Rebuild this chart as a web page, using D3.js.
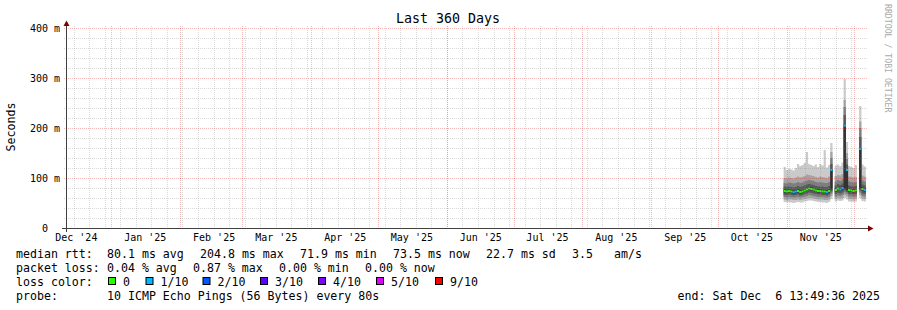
<!DOCTYPE html>
<html>
<head>
<meta charset="utf-8">
<script src="https://cdn.jsdelivr.net/npm/d3@7"></script>
<style>
body { margin: 0; background: #fff; }
svg text { font-family: "DejaVu Sans Mono", monospace; white-space: pre; }
</style>
</head>
<body>
<svg width="897" height="310"></svg>
<script>
// time window of the graph
const endTime = new Date(Date.UTC(2025, 11, 6, 13, 49, 36))
const spanDays = 360
const firstDay = new Date(Date.UTC(2025, 9, 30, 12, 0, 0))

// one entry per day starting at firstDay, null = no data
const median = [74, 73, 74, 73, 72, 73, 74, 72, 73, 75, 77, 79, 78, 77, 75, 74, 74, 73, 73, 72,
    74, 116, null, 76, 79, 77, 80, 204.8, 116, 76, 75, 74, 75, null, 158, 78, 76]
const loss = [0, 0, 0, 0, 0.1, 0.1, 0, 0, 0, 0, 0, 0, 0, 0, 0, 0, 0, 0, 0, 0.1,
    0, 0.1, null, 0, 0, 0.1, 0.1, 0.1, 0.1, 0, 0, 0, 0, null, 0.1, 0, 0.1]
// the 10 sorted pings of each day (ms)
const pings = [
    [52, 57, 62, 66, 71, 77, 83, 90, 100, 122],
    [51, 56, 61, 66, 70, 76, 82, 89, 99, 116],
    [52, 57, 62, 67, 71, 77, 83, 91, 101, 118],
    [51, 57, 61, 66, 70, 76, 82, 90, 100, 117],
    [50, 56, 61, 65, 69, 75, 81, 89, 99, 115],
    [51, 56, 61, 66, 70, 76, 82, 90, 101, 120],
    [52, 57, 62, 67, 71, 77, 84, 92, 103, 128],
    [51, 56, 61, 65, 69, 75, 82, 90, 101, 124],
    [51, 57, 62, 66, 70, 76, 83, 91, 102, 126],
    [53, 58, 63, 68, 72, 78, 85, 93, 104, 130],
    [54, 59, 64, 69, 74, 80, 87, 95, 107, 152],
    [55, 60, 66, 71, 76, 82, 88, 96, 106, 128],
    [55, 60, 65, 70, 75, 81, 87, 95, 105, 126],
    [54, 59, 64, 69, 74, 80, 86, 94, 104, 124],
    [53, 58, 63, 68, 72, 78, 84, 92, 102, 127],
    [52, 57, 62, 67, 71, 77, 83, 91, 101, 122],
    [52, 57, 62, 67, 71, 77, 83, 92, 103, 128],
    [51, 57, 62, 66, 70, 76, 83, 91, 102, 125],
    [51, 56, 61, 66, 70, 76, 82, 90, 101, 156],
    [50, 56, 61, 65, 69, 75, 82, 90, 100, 121],
    [52, 57, 62, 67, 71, 77, 84, 92, 103, 126],
    [58, 64, 69, 73, 77, 118, 128, 140, 152, 170],
    null,
    [53, 58, 63, 68, 73, 79, 85, 93, 104, 125],
    [55, 60, 65, 70, 76, 82, 88, 96, 106, 127],
    [54, 59, 64, 69, 74, 80, 86, 94, 105, 124],
    [55, 60, 66, 71, 77, 83, 89, 97, 108, 131],
    [60, 66, 71, 75, 79, 207, 226, 242, 256, 298],
    [57, 63, 68, 72, 76, 118, 127, 138, 150, 172],
    [53, 58, 63, 68, 73, 79, 85, 93, 103, 124],
    [53, 58, 63, 68, 72, 78, 84, 92, 102, 122],
    [52, 57, 62, 67, 71, 77, 83, 91, 101, 120],
    [53, 58, 63, 68, 72, 78, 84, 92, 102, 126],
    null,
    [60, 66, 71, 75, 79, 160, 182, 200, 213, 244],
    [54, 59, 64, 69, 75, 81, 87, 95, 105, 127],
    [53, 58, 63, 68, 73, 79, 85, 93, 103, 123]
]

const yTicks = [0, 100, 200, 300, 400]
const lossLabels = ['0', '1/10', '2/10', '3/10', '4/10', '5/10', '9/10']
const lossColors = ['#26ff00', '#00b8ff', '#0059ff', '#5e00ff', '#7e00ff', '#dd00ff', '#ff0000']
const lossLimits = [0, 1, 2, 3, 4, 5, 10]

const title = 'Last 360 Days'
const rttStats = ['median rtt:', '80.1 ms avg', '204.8 ms max', '71.9 ms min', '73.5 ms now', '22.7 ms sd', '3.5', 'am/s']
const lossStats = ['packet loss:', '0.04 % avg', '0.87 % max', '0.00 % min', '0.00 % now']
const probeText = ['probe:', '10 ICMP Echo Pings (56 Bytes) every 80s']
const endText = 'end: Sat Dec  6 13:49:36 2025'

const svg = d3.select('svg')
const startTime = d3.utcDay.offset(endTime, -spanDays)

const x = d3.scaleUtc().domain([startTime, endTime]).range([66, 866])
const y = d3.scaleLinear().domain([0, 400]).range([228, 28])

const days = median.map((m, i) => ({
    t0: d3.utcDay.offset(firstDay, i),
    t1: d3.utcDay.offset(firstDay, i + 1),
    median: m,
    loss: loss[i],
    pings: pings[i]
}))

// smoke: band between ping k and ping 11-k, darker towards the middle
const smoke = svg.append('g')
for (let k = 0; k < 5; k++) {
    let c = Math.floor(190 / 5 * (4 - k)) + 50
    let pts = days.flatMap(d => [
        {t: d.t0, p: d.pings},
        {t: d.t1, p: d.pings}
    ])
    let area = d3.area()
        .defined(d => d.p != null)
        .x(d => x(d.t))
        .y0(d => y(d.p[k]))
        .y1(d => y(d.p[9 - k]))
    smoke.append('path')
        .attr('d', area(pts))
        .attr('fill', d3.rgb(c, c, c))
}

// median coloured by loss
function lossColor(l) {
    for (let i = 0; i < lossLimits.length; i++) {
        if (l <= lossLimits[i]) return lossColors[i]
    }
    return lossColors[lossColors.length - 1]
}

svg.append('g')
    .selectAll('rect')
    .data(days.filter(d => d.median != null))
    .enter().append('rect')
    .attr('x', d => x(d.t0))
    .attr('width', d => x(d.t1) - x(d.t0))
    .attr('y', d => y(d.median) - 1)
    .attr('height', 2)
    .attr('fill', d => lossColor(d.loss))

// grid on top, like rrdtool
const grid = svg.append('g').attr('stroke-dasharray', '1,1')
const minorY = d3.range(0, 401, 20).filter(v => v % 100 != 0)
const gridGray = 'rgba(140,140,140,0.32)'
const gridRed = 'rgba(225,40,40,0.32)'

grid.selectAll('.hminor')
    .data(minorY)
    .enter().append('line')
    .attr('x1', 64).attr('x2', 868)
    .attr('y1', d => y(d) + 0.5).attr('y2', d => y(d) + 0.5)
    .attr('stroke', gridGray)

grid.selectAll('.vminor')
    .data(d3.utcSunday.range(startTime, endTime))
    .enter().append('line')
    .attr('x1', d => Math.round(x(d)) + 0.5).attr('x2', d => Math.round(x(d)) + 0.5)
    .attr('y1', 26).attr('y2', 230)
    .attr('stroke', gridGray)

grid.selectAll('.hmajor')
    .data(yTicks.slice(1))
    .enter().append('line')
    .attr('x1', 64).attr('x2', 868)
    .attr('y1', d => y(d) + 0.5).attr('y2', d => y(d) + 0.5)
    .attr('stroke', gridRed)

grid.selectAll('.vmajor')
    .data(d3.utcMonth.range(startTime, endTime))
    .enter().append('line')
    .attr('x1', d => Math.round(x(d)) + 0.5).attr('x2', d => Math.round(x(d)) + 0.5)
    .attr('y1', 26).attr('y2', 230)
    .attr('stroke', gridRed)

// axes
const midMonths = d3.utcMonth.range(d3.utcMonth.floor(startTime), endTime)
    .map(m => d3.utcDay.offset(m, 15))
    .filter(d => d >= startTime && d <= endTime)

const xAxis = svg.append('g')
    .attr('transform', 'translate(0,228)')
    .call(d3.axisBottom(x).tickValues(midMonths).tickFormat(d3.utcFormat("%b '%y")).tickSize(0).tickPadding(6))
xAxis.select('.domain').remove()
xAxis.selectAll('text').attr('font-size', 10).attr('fill', '#000')
    .style('font-family', '"DejaVu Sans Mono", monospace')

const yAxis = svg.append('g')
    .attr('transform', 'translate(60,0)')
    .call(d3.axisLeft(y).tickValues(yTicks).tickFormat(v => v == 0 ? '0  ' : v + ' m').tickSize(0).tickPadding(0))
yAxis.select('.domain').remove()
yAxis.selectAll('text').attr('font-size', 10).attr('fill', '#000')
    .style('font-family', '"DejaVu Sans Mono", monospace')

svg.append('line')
    .attr('x1', 62).attr('x2', 868).attr('y1', 228.5).attr('y2', 228.5)
    .attr('stroke', '#404040')
svg.append('line')
    .attr('x1', 66.5).attr('x2', 66.5).attr('y1', 232).attr('y2', 25)
    .attr('stroke', '#404040')
svg.append('path')
    .attr('d', 'M868,225.5L873.5,228.5L868,231.5Z')
    .attr('fill', '#7f0000')
svg.append('path')
    .attr('d', 'M63.5,26L66.5,20.5L69.5,26Z')
    .attr('fill', '#7f0000')

// title and labels
svg.append('text')
    .attr('x', 448).attr('y', 23)
    .attr('text-anchor', 'middle')
    .attr('font-size', 13.3)
    .text(title)

svg.append('text')
    .attr('transform', 'translate(15,127) rotate(-90)')
    .attr('text-anchor', 'middle')
    .attr('font-size', 11.6)
    .text('Seconds')

svg.append('text')
    .attr('transform', 'translate(884.5,4) rotate(90)')
    .attr('font-size', 8.2)
    .attr('fill', '#aaa')
    .text('RRDTOOL / TOBI OETIKER')

// legend
const legend = svg.append('g').attr('font-size', 11.6)
const rttX = [16, 107, 200, 300, 393, 486, 572, 614]
rttStats.forEach((s, i) => legend.append('text').attr('x', rttX[i]).attr('y', 258).text(s))

const lossX = [16, 107, 193, 279, 365]
lossStats.forEach((s, i) => legend.append('text').attr('x', lossX[i]).attr('y', 272).text(s))

legend.append('text').attr('x', 16).attr('y', 285.5).text('loss color:')
const boxX = [108, 145.5, 202.5, 260, 318, 376, 435]
lossLabels.forEach((s, i) => {
    legend.append('rect')
        .attr('x', boxX[i] + 0.5).attr('y', 277.5)
        .attr('width', 7).attr('height', 7)
        .attr('fill', lossColors[i])
        .attr('stroke', '#000')
    legend.append('text').attr('x', boxX[i] + 15).attr('y', 285.5).text(s)
})

legend.append('text').attr('x', 16).attr('y', 299.5).text(probeText[0])
legend.append('text').attr('x', 107).attr('y', 299.5).text(probeText[1])
legend.append('text').attr('x', 880).attr('y', 299.5).attr('text-anchor', 'end').text(endText)
</script>
</body>
</html>
